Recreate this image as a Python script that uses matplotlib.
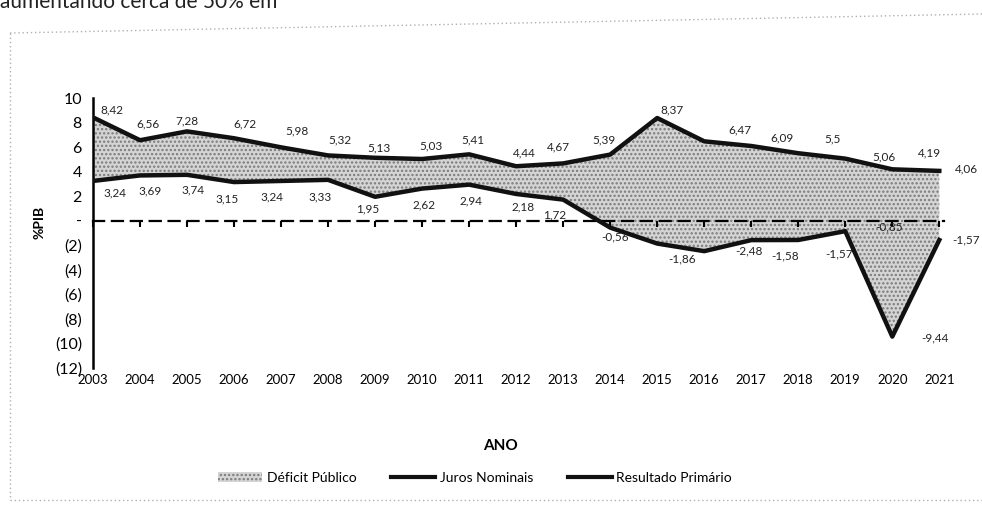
import matplotlib
matplotlib.use("Agg")
import matplotlib.pyplot as plt
from matplotlib.patches import Patch
from matplotlib.lines import Line2D

plt.rcParams['font.family'] = ['Lato', 'DejaVu Sans']
plt.rcParams['hatch.linewidth'] = 1.1

# Data
anos = [str(a) for a in range(2003, 2022)]
juros_nominais = [8.42, 6.56, 7.28, 6.72, 5.98, 5.32, 5.13, 5.03, 5.41, 4.44,
                  4.67, 5.39, 8.37, 6.47, 6.09, 5.5, 5.06, 4.19, 4.06]
resultado_primario = [3.24, 3.69, 3.74, 3.15, 3.24, 3.33, 1.95, 2.62, 2.94, 2.18,
                      1.72, -0.56, -1.86, -2.48, -1.58, -1.57, -0.85, -9.44, -1.57]
y_ticks = [10, 8, 6, 4, 2, 0, -2, -4, -6, -8, -10, -12]
y_tick_labels = ['10', '8', '6', '4', '2', '-', '(2)', '(4)', '(6)', '(8)', '(10)', '(12)']

# label offsets in pixels (dx, dy)
off_top = [(19, 7), (8, 16), (0, 10), (11, 14), (16, 16), (12, 16), (4, 10), (9, 13),
           (4, 14), (8, 13), (-5, 16), (-6, 15), (15, 8), (36, 11), (31, 8), (34, 14),
           (39, 2), (37, 16), (27, 2)]
off_bot = [(22, -12), (10, -15), (6, -15), (-7, -17), (-9, -16), (-8, -17), (-7, -12),
           (2, -16), (2, -16), (7, -13), (-9, -15), (5, -9), (25, -15), (45, 0),
           (34, -16), (41, -14), (44, 4), (43, -1), (27, 0)]

fig = plt.figure(figsize=(9.82, 5.05), dpi=100)
ax = fig.add_axes([93 / 982, 1 - 368 / 505, 851 / 982, 270 / 505])

x = list(range(len(anos)))

ax.fill_between(x, resultado_primario, juros_nominais, facecolor='#d4d4d4',
                edgecolor='#7a7a7a', hatch='....', linewidth=0, zorder=1)
ax.plot(x, juros_nominais, color='#111111', lw=3.2, solid_joinstyle='round', zorder=3)
ax.plot(x, resultado_primario, color='#111111', lw=3.2, solid_joinstyle='round', zorder=3)

fmt = lambda v: str(v).replace('.', ',')
for i, v in enumerate(juros_nominais):
    ax.annotate(fmt(v), (i, v), xytext=off_top[i], textcoords='offset pixels',
                ha='center', va='center', fontsize=8.5, color='#222222', zorder=4)
for i, v in enumerate(resultado_primario):
    ax.annotate(fmt(v), (i, v), xytext=off_bot[i], textcoords='offset pixels',
                ha='center', va='center', fontsize=8.5, color='#222222', zorder=4)

ax.set_xlim(0, 18.1)
ax.set_ylim(-12, 10)
ax.set_yticks(y_ticks, y_tick_labels, fontsize=11.5)
ax.tick_params(axis='y', length=0, pad=8)

# axis at zero, dashed, with small tick marks
ax.spines['bottom'].set_position(('data', 0))
ax.spines['bottom'].set_linestyle((0, (5, 3.5)))
ax.spines['bottom'].set_linewidth(1.6)
ax.spines['bottom'].set_zorder(2)
ax.set_xticks(x)
ax.tick_params(axis='x', direction='out', length=4, width=1.5, labelbottom=False)
ax.spines['left'].set_linewidth(1.8)
ax.spines['top'].set_visible(False)
ax.spines['right'].set_visible(False)

sec = ax.secondary_xaxis('bottom')
sec.set_xticks(x, anos, fontsize=9.5)
sec.tick_params(length=0, pad=4)
sec.spines['bottom'].set_visible(False)

ax.set_ylabel('%PIB', fontsize=10, fontweight='bold')
ax.yaxis.set_label_coords(-0.056, 0.54)

fig.text(500 / 982, 1 - 446 / 505, 'ANO', ha='center', va='center',
         fontsize=11, fontweight='bold')

handles = [Patch(facecolor='#d4d4d4', edgecolor='#7a7a7a', hatch='....', linewidth=0),
           Line2D([], [], color='#111111', lw=3),
           Line2D([], [], color='#111111', lw=3)]
fig.legend(handles, ['Déficit Público', 'Juros Nominais', 'Resultado Primário'],
           loc='center', bbox_to_anchor=(475 / 982, 1 - 478 / 505), ncol=3,
           frameon=False, fontsize=10, handlelength=3.2, handletextpad=0.3,
           columnspacing=2.5)

# text from the page above the chart, cut by the top edge
fig.text(0.0, 1 - 8 / 505, 'aumentando cerca de 50% em', ha='left', va='baseline',
         fontsize=15, color='#222222')

# dotted chart border
border = dict(color='#b0b0b0', lw=1, ls=(0, (1, 2)), transform=fig.transFigure)
fig.add_artist(Line2D([10 / 982, 1.0], [1 - 33 / 505, 1 - 14 / 505], **border))
fig.add_artist(Line2D([10 / 982, 10 / 982], [1 - 33 / 505, 1 - 500 / 505], **border))
fig.add_artist(Line2D([10 / 982, 1.0], [1 - 500 / 505, 1 - 500 / 505], **border))

fig.savefig('out.png', dpi=100)
